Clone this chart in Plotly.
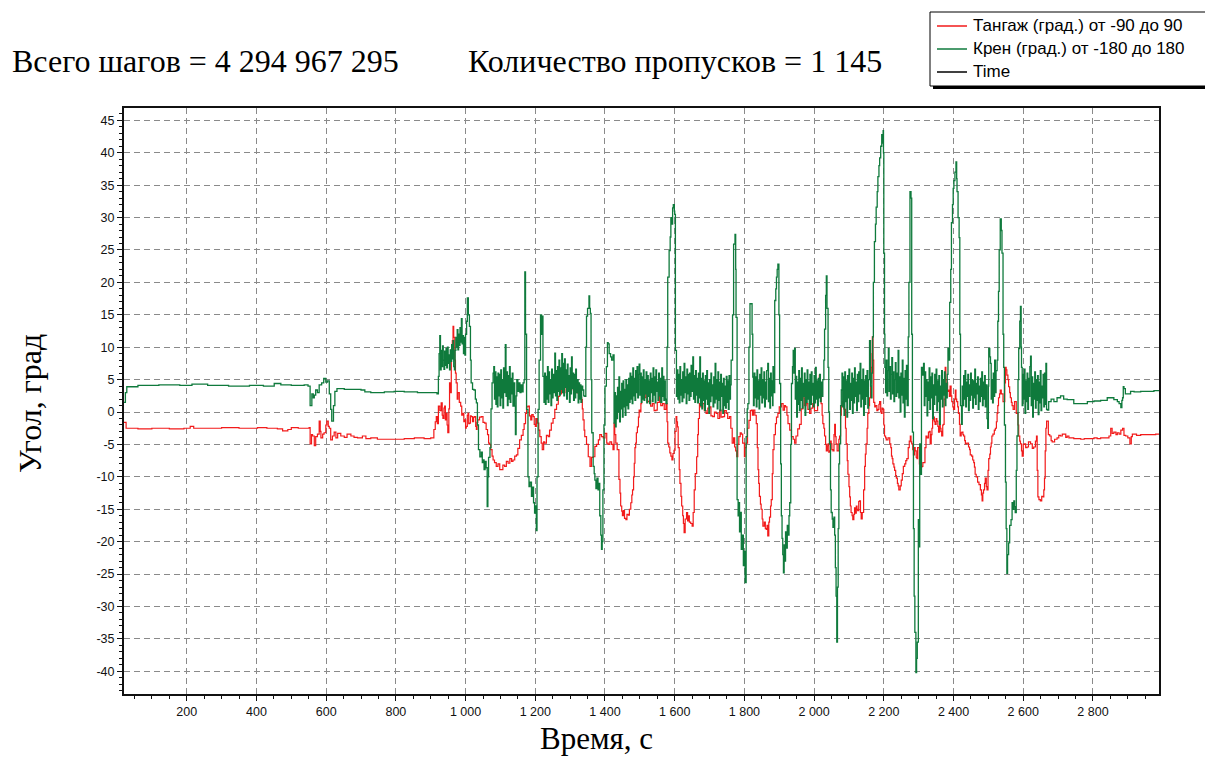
import plotly.graph_objects as go

# ---------------------------------------------------------------------------
# Data: (time, angle) samples of the two recorded channels
# ---------------------------------------------------------------------------
pitch_points = [
    (20, -1.6), (26, -2.5), (60, -2.6), (100, -2.5), (150, -2.6), (192, -2.5), (210, -2.2),
    (220, -2.5), (300, -2.4), (350, -2.5), (403, -2.4), (430, -2.5), (460, -2.6), (475, -2.9),
    (490, -2.7), (500, -2.4), (520, -2.5), (551, -2.4), (554, -4.9), (558, -3.5), (561, -3.7),
    (566, -5.2), (570, -3.8), (575, -3.4), (580, -1.4), (583, -3.0), (585, -4.0), (590, -3.4),
    (594, -3.2), (599, -2.0), (602, -1.4), (606, -2.2), (609, -2.5), (613, -4.3), (618, -3.7),
    (623, -3.1), (628, -4.0), (633, -3.3), (642, -3.7), (652, -3.9), (660, -3.4), (671, -3.7),
    (680, -3.9), (690, -4.0), (704, -3.7), (714, -4.1), (728, -4.0), (747, -4.2), (767, -4.2),
    (795, -4.2), (824, -4.1), (853, -4.0), (881, -4.1), (900, -4.0), (906, -4.0),
    (909, -2.7), (913, -1.5), (916, -0.7), (919, -1.8), (922, 0.9), (926, 0.2), (930, 1.4),
    (933, -0.5), (935, -1.0), (938, 0.6), (940, 0.9), (942, -1.2), (944, -0.2), (947, -2.0),
    (949, -3.2), (952, 0.5), (954, 4.5), (957, 3.0), (959, 9.6), (962, 11.0), (964, 13.2),
    (966, 11.5), (969, 8.0), (971, 6.0), (973, 4.5), (976, 2.0), (978, 3.0), (982, 1.5),
    (986, 0.9), (989, -0.5), (992, -0.2), (995, -1.5), (997, -1.2), (1000, -2.5), (1002, -2.2),
    (1005, -0.5), (1007, -0.2), (1009, -1.8), (1011, -1.7), (1014, -0.6), (1016, -0.7),
    (1020, -1.5), (1023, -0.8), (1026, -0.7), (1029, -2.2), (1031, -2.7), (1033, -1.6),
    (1035, -1.2), (1040, -0.8), (1045, -0.7), (1050, -1.6), (1055, -1.7), (1059, -2.7),
    (1063, -3.5), (1066, -4.8), (1069, -5.0), (1072, -5.8), (1076, -6.8), (1079, -7.4),
    (1083, -7.8), (1088, -8.4), (1093, -8.0), (1098, -8.9), (1103, -8.9), (1107, -8.2),
    (1112, -8.4), (1117, -7.6), (1122, -7.9), (1127, -7.2), (1132, -7.6), (1136, -7.4),
    (1141, -6.8), (1146, -6.6), (1150, -5.6), (1155, -4.3), (1160, -3.6), (1165, -2.7),
    (1168, -1.8), (1172, -0.2), (1175, 0.8), (1179, 0.9), (1183, -0.6), (1187, -1.2),
    (1190, -0.4), (1194, -0.7), (1197, -1.9), (1200, -2.2), (1203, -1.0), (1206, -1.7),
    (1210, -2.8), (1213, -3.8), (1217, -4.8), (1220, -5.8), (1224, -4.6), (1227, -4.8),
    (1232, -3.6), (1237, -3.8), (1241, -2.8), (1246, -1.7), (1251, -1.0), (1256, 0.4),
    (1261, 1.2), (1266, 2.4), (1270, 2.8), (1275, 3.5), (1280, 3.0), (1285, 4.5), (1290, 3.6),
    (1294, 3.5), (1299, 4.0), (1304, 4.5), (1309, 3.4), (1314, 3.5), (1318, 3.0), (1323, 2.9),
    (1328, 2.2), (1333, 1.9), (1335, 0.5), (1337, -1.2), (1340, -2.8), (1342, -3.8),
    (1347, -5.0), (1352, -6.9), (1357, -8.4), (1361, -7.0), (1366, -6.9), (1371, -5.3),
    (1376, -5.0), (1381, -4.3), (1385, -3.5), (1390, -3.8), (1395, -4.0), (1400, -3.3),
    (1405, -4.8), (1409, -5.0), (1414, -4.6), (1419, -5.0), (1423, -5.8), (1426, -1.7),
    (1428, -3.5), (1431, -4.8), (1435, -5.8),
    (1440, -10.4), (1443, -12.5), (1445, -14.5), (1448, -15.3), (1450, -16.0), (1453, -15.2),
    (1456, -16.4), (1460, -16.6), (1463, -15.8), (1467, -15.9), (1470, -15.0), (1474, -14.0),
    (1477, -12.8), (1479, -12.0), (1482, -10.0), (1484, -7.9), (1486, -5.5), (1488, -4.8),
    (1490, -3.2), (1493, -2.3), (1496, -0.8), (1498, 0.3), (1500, 0.0), (1503, 1.3),
    (1505, 2.5), (1508, 3.4), (1512, 2.2), (1517, 2.9), (1521, 1.6), (1527, 1.8), (1531, 0.9),
    (1536, 1.3), (1541, 0.2), (1546, 0.3), (1550, 1.5), (1556, 2.4), (1560, 1.0), (1565, 1.3),
    (1570, 0.4), (1575, 1.3), (1578, -1.5), (1580, -4.8), (1583, -5.4), (1586, -6.3),
    (1589, -6.8), (1592, -7.4), (1595, -6.4), (1598, -5.9), (1601, -3.0), (1604, -0.7),
    (1606, -1.5), (1608, -2.3), (1610, -5.5), (1613, -8.9), (1615, -11.0), (1618, -13.0),
    (1620, -14.5), (1623, -16.0), (1625, -17.2), (1627, -18.6), (1630, -16.5), (1634, -15.5),
    (1637, -16.8), (1640, -16.0), (1642, -17.0), (1646, -17.2), (1650, -17.6), (1653, -15.5),
    (1656, -12.0), (1659, -9.5), (1663, -6.9), (1666, -3.5), (1668, -1.0), (1671, 1.3),
    (1675, 0.8), (1680, 1.3), (1685, 0.2), (1690, -0.2), (1695, 0.6), (1700, 0.8),
    (1704, -0.6), (1709, -0.7), (1714, 0.0), (1719, -0.2), (1724, -1.0), (1729, 0.3),
    (1733, -0.8), (1738, -0.7), (1743, 0.2), (1748, -0.2), (1752, -1.0), (1757, -0.7),
    (1761, -2.5), (1765, -4.8), (1769, -4.0), (1772, -5.4), (1775, -6.0), (1778, -6.9),
    (1781, -5.0), (1784, -3.8), (1788, -3.2), (1791, -3.4), (1795, -4.8), (1800, -6.9),
    (1802, -5.5), (1805, -4.8), (1809, -2.5), (1813, -1.3), (1817, 0.2), (1820, 0.3),
    (1823, -0.5), (1826, 0.3), (1830, -0.5), (1834, -1.8), (1837, -5.5), (1839, -8.9),
    (1841, -11.0), (1843, -13.0), (1846, -14.2), (1848, -15.0), (1851, -16.5), (1853, -17.6),
    (1857, -17.0), (1860, -18.0), (1863, -18.1), (1865, -17.5), (1867, -19.1), (1870, -17.0),
    (1872, -16.2), (1875, -14.5), (1877, -13.5), (1880, -9.5), (1882, -5.8), (1885, -3.5),
    (1889, -1.8), (1892, -0.8), (1896, -0.2), (1900, 0.8), (1906, 1.3), (1911, 0.3),
    (1915, 1.0), (1918, 0.8), (1922, -0.5), (1925, -1.8), (1930, -2.8), (1935, -3.8),
    (1940, -4.2), (1944, -4.8), (1948, -3.7), (1953, -2.6), (1958, -1.9), (1963, 0.5),
    (1968, 2.2), (1973, 1.0), (1977, 1.3), (1982, 0.4), (1987, -0.2), (1991, 0.6), (1996, 1.3),
    (2001, 0.2), (2006, 0.2), (2010, 2.5), (2015, 5.7), (2018, 3.0), (2020, 1.3), (2023, -0.5),
    (2025, -1.8), (2028, -2.5), (2030, -3.7), (2033, -5.0), (2035, -6.0), (2038, -5.2),
    (2040, -4.9), (2042, -6.2), (2044, -6.0), (2047, -4.5), (2049, -4.9), (2051, -5.8),
    (2054, -6.0), (2057, -3.5), (2059, -1.9), (2061, -3.8), (2063, -4.9), (2066, -6.0),
    (2068, -6.0), (2071, -4.2), (2073, -3.7), (2076, -0.5), (2078, 1.0), (2081, 1.6),
    (2083, 1.6), (2085, 0.5), (2087, 0.4), (2090, -2.5), (2092, -4.9), (2095, -7.5),
    (2097, -9.6), (2100, -11.5), (2102, -13.1), (2104, -14.5), (2106, -15.5), (2109, -16.0),
    (2111, -16.6), (2114, -15.8), (2116, -14.8), (2119, -15.6), (2121, -14.5), (2123, -15.0),
    (2125, -15.2), (2128, -13.8), (2130, -13.7), (2133, -15.5), (2135, -16.5), (2138, -15.5),
    (2140, -15.5), (2142, -12.0), (2145, -8.4), (2147, -6.5), (2149, -4.9), (2152, -2.5),
    (2154, -0.2), (2157, 1.0), (2159, 2.2), (2162, 4.5), (2164, 6.9), (2166, 9.0), (2167, 11.6),
    (2169, 8.0), (2171, 1.5), (2174, 0.8), (2176, 1.0), (2180, 0.2), (2183, 0.4), (2186, 1.2),
    (2188, 1.6), (2191, 0.0), (2193, -0.2), (2195, 0.6), (2197, 0.4), (2200, -2.0),
    (2202, -3.7), (2205, -4.0), (2207, -4.3), (2212, -4.0), (2217, -4.9), (2220, -5.5),
    (2222, -6.8), (2224, -7.2), (2226, -8.0), (2229, -8.5), (2231, -9.0), (2234, -9.8),
    (2236, -10.2), (2239, -11.0), (2241, -11.4), (2243, -12.0), (2245, -12.0), (2247, -11.4),
    (2250, -10.5), (2253, -9.5), (2256, -8.4), (2260, -8.0), (2263, -7.5), (2266, -7.2),
    (2270, -5.5), (2273, -4.5), (2276, -3.7), (2278, -4.6), (2280, -4.9), (2283, -5.8),
    (2285, -6.6), (2288, -5.5), (2290, -6.0), (2293, -7.0), (2295, -7.2), (2297, -5.5),
    (2299, -5.5), (2302, -8.0), (2304, -9.6), (2307, -8.5), (2309, -8.4), (2312, -7.8),
    (2314, -7.8), (2318, -5.5), (2321, -3.7), (2324, -4.0), (2328, -3.1), (2331, -3.0),
    (2333, -4.9), (2336, -3.5), (2338, -2.5), (2340, -1.2), (2342, -0.8), (2345, -1.5),
    (2347, -1.9), (2350, -1.0), (2352, -1.4), (2355, -2.2), (2357, -3.1), (2360, -2.0),
    (2362, -2.5), (2364, -3.0), (2366, -3.7), (2369, -2.0), (2371, -1.9), (2373, 2.0),
    (2376, 6.9), (2378, 5.0), (2381, 4.5), (2383, 3.2), (2386, 3.4), (2388, 2.4), (2390, 4.0),
    (2393, 2.5), (2395, 1.6), (2398, 0.8), (2400, 0.4), (2403, 2.0), (2405, 3.4), (2407, 2.0),
    (2409, 1.6), (2412, 0.8), (2414, -0.2), (2417, -1.9), (2419, -3.7), (2422, -3.2),
    (2424, -3.1), (2427, -3.5), (2429, -3.7), (2432, -4.4), (2434, -4.9), (2438, -4.8),
    (2443, -5.4), (2446, -5.8), (2448, -6.6), (2452, -6.8), (2455, -7.4), (2458, -7.8),
    (2460, -8.5), (2462, -9.6), (2465, -10.0), (2469, -10.8), (2473, -11.2), (2477, -12.0),
    (2480, -12.8), (2482, -13.7), (2484, -12.5), (2486, -12.0), (2489, -11.0), (2491, -10.2),
    (2494, -11.5), (2496, -12.0), (2499, -9.0), (2501, -7.2), (2504, -6.5), (2506, -5.4),
    (2508, -4.8), (2510, -3.7), (2513, -3.4), (2517, -2.8), (2520, -2.5), (2523, -1.5),
    (2525, -0.2), (2527, 1.0), (2529, 2.2), (2532, 2.8), (2534, 3.4), (2537, 2.8), (2539, 2.8),
    (2542, 1.6), (2544, 1.6), (2547, 4.5), (2549, 6.9), (2551, 6.5), (2553, 5.7), (2556, 5.0),
    (2558, 3.9), (2561, 3.0), (2563, 2.2), (2566, 1.5), (2568, 1.0), (2571, 0.4), (2573, 0.4),
    (2575, 1.6), (2577, 1.6), (2580, -0.2), (2582, -0.2), (2585, -2.0), (2587, -3.7),
    (2590, -4.5), (2592, -4.9), (2595, -6.0), (2597, -6.8), (2600, -5.0), (2603, -4.9),
    (2607, -5.5), (2611, -5.4), (2615, -4.6), (2621, -4.9), (2626, -5.6), (2630, -5.4),
    (2635, -4.5), (2638, -3.7), (2640, -9.0), (2642, -13.1), (2645, -13.5), (2649, -13.7),
    (2653, -13.0), (2657, -13.1), (2659, -12.0), (2661, -10.2), (2663, -6.0), (2665, -2.5),
    (2667, -1.4), (2669, -1.4), (2672, -3.5), (2676, -3.7), (2680, -4.4), (2683, -4.6),
    (2690, -4.2), (2697, -4.0), (2702, -3.6), (2707, -3.7), (2712, -3.4), (2717, -3.4),
    (2722, -3.9), (2726, -3.7), (2731, -4.0), (2736, -4.0), (2745, -4.1), (2755, -4.1),
    (2765, -4.2), (2775, -4.1), (2784, -4.1), (2793, -4.1), (2803, -4.0), (2812, -4.1),
    (2822, -4.0), (2832, -4.0), (2846, -3.7), (2851, -2.5), (2855, -3.3), (2860, -3.1),
    (2866, -3.5), (2870, -3.2), (2875, -3.4), (2880, -2.8), (2885, -2.5), (2889, -3.6),
    (2894, -3.7), (2900, -4.0), (2906, -4.9), (2910, -3.8), (2913, -3.4), (2925, -3.6),
    (2937, -3.5), (2950, -3.5), (2966, -3.5), (2980, -3.4), (2990, -3.4),
]

roll_points = [
    (20, 1.5), (24, 3.0), (28, 3.9), (60, 4.1), (120, 4.2), (180, 4.1), (215, 4.3), (260, 4.1),
    (320, 4.0), (380, 4.1), (420, 4.0), (451, 4.4), (470, 4.2), (500, 4.1), (537, 4.2),
    (548, 4.0), (554, 1.0), (559, 2.8), (563, 2.2), (566, 2.6), (570, 3.4), (575, 3.0),
    (580, 4.2), (587, 4.5), (593, 5.2), (599, 4.6), (604, 4.8), (609, 2.8), (613, 0.4),
    (616, -1.4), (621, 1.0), (625, 3.2), (631, 3.6), (652, 3.5), (671, 3.5), (700, 3.4),
    (711, 3.1), (728, 3.0), (767, 3.1), (795, 3.2), (824, 3.1), (862, 3.0), (900, 3.0),
    (918, 2.8),
    (922, 5.5), (924, 9.0), (926, 11.8), (928, 6.5), (930, 9.5), (932, 7.0), (934, 10.2),
    (936, 8.0), (938, 6.6), (940, 9.4), (942, 7.2), (944, 9.8), (946, 6.8), (948, 10.0),
    (950, 7.5), (952, 8.8), (954, 6.5), (956, 9.6), (958, 7.8), (960, 10.4), (962, 8.2),
    (964, 11.0), (966, 7.0), (968, 6.5), (970, 9.5), (972, 11.5), (974, 10.0), (976, 12.7),
    (978, 9.6), (980, 12.0), (982, 10.3), (984, 13.0), (986, 10.8), (988, 14.4), (990, 10.5),
    (992, 11.8), (994, 9.0), (996, 11.5), (998, 8.8), (1000, 12.0), (1003, 14.0), (1005, 17.6),
    (1008, 15.0), (1011, 13.2), (1014, 8.0), (1016, 4.5), (1020, 3.5), (1024, 3.4),
    (1028, 2.0), (1031, 1.4), (1034, -2.0), (1037, -5.8), (1041, -6.9), (1045, -6.2),
    (1048, -7.8), (1050, -7.4), (1053, -8.9), (1056, -7.6), (1059, -8.6), (1062, -14.6),
    (1064, -10.0), (1066, -7.0), (1070, -5.5), (1073, 0.5), (1076, 4.5), (1079, 6.0),
    (1081, 7.0), (1083, 2.0), (1085, 6.2), (1087, 1.2), (1089, 5.4), (1091, 0.8), (1093, 6.0),
    (1095, 2.5), (1097, 5.8), (1099, 1.0), (1101, 6.5), (1103, 2.2), (1105, 5.0), (1107, 0.6),
    (1109, 6.8), (1111, 3.0), (1114, 10.4), (1116, 2.4), (1118, 6.2), (1120, 1.0),
    (1122, 5.6), (1124, 2.0), (1126, 7.0), (1128, 1.5), (1130, 5.2), (1132, 2.8), (1134, 6.0),
    (1136, 0.9), (1138, 4.5), (1141, 0.9), (1143, -3.5), (1145, 2.5), (1147, 5.0), (1150, 3.2),
    (1153, 4.5), (1156, 3.0), (1159, 4.2), (1162, 3.1), (1165, 4.5), (1168, 5.0), (1170, 21.6),
    (1172, 12.0), (1175, 0.4), (1179, -10.0), (1182, -11.5), (1185, -10.8), (1189, -13.0),
    (1192, -11.6), (1195, -14.0), (1198, -15.6), (1201, -14.5), (1203, -18.3), (1205, -10.0),
    (1208, 0.4), (1211, 8.0), (1215, 15.0), (1218, 12.0), (1220, 14.8), (1222, 5.5),
    (1225, 1.5),
    (1227, 6.0), (1229, 1.2), (1231, 5.5), (1233, 2.0), (1235, 7.0), (1237, 1.5), (1239, 6.2),
    (1241, 2.8), (1243, 5.0), (1245, 1.0), (1247, 6.6), (1249, 2.2), (1251, 5.8), (1253, 3.0),
    (1256, 9.1), (1258, 2.5), (1260, 6.4), (1262, 1.8), (1264, 7.0), (1266, 3.2), (1268, 8.0),
    (1270, 2.6), (1272, 6.8), (1274, 3.5), (1276, 9.0), (1278, 3.0), (1280, 7.5), (1282, 2.5),
    (1284, 8.2), (1286, 3.8), (1288, 6.5), (1290, 2.0), (1292, 7.4), (1294, 3.2), (1296, 5.6),
    (1298, 1.5), (1300, 6.8), (1302, 2.8), (1304, 8.5), (1306, 3.6), (1308, 6.0), (1310, 1.8),
    (1312, 5.8), (1314, 2.2), (1316, 6.6), (1318, 3.0), (1320, 5.0), (1323, 1.4), (1325, 4.5),
    (1327, 2.0), (1329, 4.2), (1331, 1.5), (1333, 4.0), (1336, 3.4), (1339, 2.5), (1342, 2.4),
    (1345, 10.0), (1347, 14.8), (1350, 16.0), (1354, 17.9), (1356, 16.0), (1358, 15.2),
    (1360, 5.0), (1362, -3.2), (1366, -8.4), (1369, -9.5), (1371, -10.5), (1374, -11.8),
    (1377, -10.2), (1380, -12.0), (1383, -11.0), (1385, -16.0), (1388, -19.0), (1390, -21.2),
    (1392, -20.0), (1394, -12.0), (1397, -2.0), (1400, 4.0), (1404, 7.0), (1407, 10.7),
    (1409, 10.5), (1412, 9.0), (1416, 8.5), (1419, 8.0), (1423, 8.8), (1426, -1.7),
    (1428, 3.0), (1430, -2.3), (1432, 2.5), (1434, -1.0), (1436, 3.8), (1438, 0.0),
    (1440, 5.4), (1442, -1.5), (1444, 3.2), (1446, 0.5), (1448, 4.4), (1450, -0.8),
    (1452, 4.8), (1454, 0.8), (1456, 3.5), (1458, -0.5), (1460, 5.0), (1462, 1.0), (1464, 4.2),
    (1466, 0.5), (1468, 5.2), (1470, 1.5), (1472, 6.0), (1474, 2.0), (1476, 5.5), (1478, 1.3),
    (1480, 6.8), (1482, 2.5), (1484, 5.2), (1486, 1.8), (1488, 6.4), (1490, 3.0), (1492, 7.0),
    (1494, 2.2), (1496, 5.8), (1498, 7.4), (1500, 2.6), (1502, 6.0), (1504, 1.5), (1506, 5.4),
    (1508, 2.0), (1510, 6.5), (1512, 1.8), (1514, 5.0), (1516, 2.8), (1518, 6.2), (1520, 1.4),
    (1522, 5.6), (1524, 2.4), (1526, 4.8), (1528, 1.3), (1530, 6.0), (1532, 3.0), (1534, 5.2),
    (1536, 1.6), (1538, 6.8), (1540, 2.6), (1542, 5.4), (1544, 1.4), (1546, 6.5), (1548, 3.2),
    (1550, 4.6), (1552, 1.8), (1554, 6.0), (1556, 2.5), (1558, 5.2), (1560, 1.5), (1563, 6.8),
    (1565, 2.4), (1567, 5.5), (1569, 1.8), (1571, 4.8), (1573, 2.0), (1575, 1.3),
    (1578, 10.0), (1580, 20.8), (1584, 24.9), (1587, 27.0), (1589, 30.0), (1592, 29.0),
    (1594, 31.5), (1596, 32.0), (1599, 31.0), (1600, 30.5), (1602, 9.5), (1605, 2.4),
    (1607, 6.5), (1609, 2.0), (1611, 5.8), (1613, 1.4), (1615, 7.0), (1617, 2.6), (1619, 5.0),
    (1621, 1.6), (1623, 6.2), (1625, 2.2), (1627, 7.5), (1629, 3.0), (1631, 5.4), (1633, 1.3),
    (1635, 6.6), (1637, 2.8), (1639, 5.8), (1641, 1.8), (1643, 6.0), (1645, 2.4), (1647, 7.2),
    (1649, 3.2), (1652, 8.5), (1654, 2.0), (1656, 5.6), (1658, 1.5), (1660, 6.4), (1662, 2.6),
    (1664, 5.2), (1666, 1.4), (1668, 6.0), (1670, 2.2), (1672, 8.5), (1674, 1.0), (1676, 5.2),
    (1678, 0.5), (1680, 6.0), (1682, 1.8), (1684, 4.8), (1686, 0.2), (1688, 5.6), (1690, 2.0),
    (1692, 6.4), (1694, 1.2), (1696, 4.5), (1698, -0.2), (1700, 5.0), (1702, 1.6), (1704, 6.0),
    (1706, 2.5), (1708, 4.2), (1710, 0.8), (1712, 5.4), (1714, 1.4), (1716, 7.5), (1718, 2.0),
    (1720, 5.0), (1722, 0.5), (1724, 6.2), (1726, 1.8), (1728, 4.6), (1730, 0.2), (1732, 5.8),
    (1734, 2.4), (1736, 4.4), (1738, -0.2), (1740, 5.2), (1742, 1.0), (1744, 4.0), (1746, 0.6),
    (1748, 5.5), (1750, 1.5), (1752, 4.8), (1754, 0.4), (1756, 5.6), (1758, 2.0), (1760, 4.2),
    (1762, 8.0), (1766, 15.0), (1769, 25.9), (1773, 27.4), (1775, 22.0), (1776, 14.6),
    (1779, -13.5), (1782, -16.0), (1784, -14.0), (1786, -18.5), (1788, -15.5), (1791, -21.2),
    (1794, -19.0), (1797, -23.7), (1800, -21.5), (1802, -26.3), (1805, -3.8), (1808, 0.5),
    (1810, 1.3), (1813, 10.0), (1816, 16.7), (1820, 16.7), (1822, 12.0), (1824, 5.4),
    (1826, 1.0), (1828, 6.0), (1830, 2.2), (1832, 5.4), (1834, 0.8), (1836, 6.5), (1838, 2.0),
    (1840, 4.8), (1842, 0.5), (1844, 5.8), (1846, 2.6), (1848, 6.8), (1850, 1.4), (1852, 5.0),
    (1854, 2.2), (1856, 6.2), (1858, 0.8), (1860, 4.6), (1862, 2.0), (1864, 6.4), (1867, 7.5),
    (1869, 1.6), (1871, 5.2), (1873, 0.6), (1875, 6.0), (1877, 2.5), (1879, 4.8), (1881, 1.0),
    (1882, 7.0), (1884, 3.0), (1887, 17.2), (1890, 19.0), (1892, 20.8), (1894, 22.0),
    (1896, 22.8), (1899, 15.0), (1901, 4.4), (1904, -8.0), (1906, -16.0), (1908, -19.5),
    (1910, -22.0), (1912, -24.8), (1914, -20.5), (1916, -23.0), (1918, -18.5), (1920, -21.0),
    (1923, -17.5), (1925, -19.0), (1928, -16.0), (1930, -14.0), (1933, -5.0), (1935, 4.4),
    (1938, 7.0), (1940, 9.5), (1942, 6.0), (1944, 9.8), (1946, 2.0), (1948, 5.5), (1950, -0.8),
    (1952, 4.6), (1954, 1.2), (1956, 6.4), (1958, 0.2), (1960, 5.2), (1962, 1.8), (1964, 6.8),
    (1966, 0.6), (1968, 4.4), (1970, 2.4), (1972, 6.0), (1974, -0.5), (1976, 5.0), (1978, 1.5),
    (1980, 6.5), (1982, 2.0), (1984, 4.6), (1986, 0.4), (1988, 5.8), (1990, 1.2), (1992, 6.2),
    (1994, 2.6), (1996, 4.4), (1998, 0.8), (2000, 5.6), (2002, 1.4), (2004, 6.9), (2006, 2.0),
    (2008, 4.8), (2010, 1.0), (2012, 5.2), (2014, 2.2), (2016, 5.8), (2018, 1.6), (2020, 4.6),
    (2022, 2.4), (2025, 5.0), (2028, 8.0), (2030, 12.8), (2033, 18.0), (2035, 21.0),
    (2037, 16.0), (2040, 6.9), (2042, 0.0), (2044, -4.9), (2047, -12.0), (2049, -15.5),
    (2052, -16.5), (2054, -17.8), (2057, -16.2), (2059, -19.0), (2061, -24.0), (2063, -28.4),
    (2065, -35.5), (2067, -27.0), (2069, -18.0), (2071, -8.0), (2073, -4.9), (2076, 1.0),
    (2078, 3.4), (2080, 6.0), (2082, 0.8), (2084, 5.4), (2086, -0.5), (2088, 6.2), (2090, 1.6),
    (2092, 4.8), (2094, -0.8), (2096, 5.6), (2098, 2.2), (2100, 6.6), (2102, 0.4), (2104, 4.4),
    (2106, 1.8), (2108, 6.0), (2110, -0.2), (2112, 5.2), (2114, 1.4), (2116, 6.8), (2118, 2.4),
    (2120, 4.6), (2122, 0.2), (2124, 5.8), (2126, 1.6), (2128, 6.2), (2130, 2.8), (2132, 7.5),
    (2134, 0.8), (2136, 5.0), (2138, 2.0), (2140, 6.6), (2142, -0.5), (2144, 4.8), (2146, 1.2),
    (2148, 5.6), (2150, 2.4), (2152, 6.4), (2154, 0.6), (2156, 5.0), (2159, 11.0), (2162, 4.0),
    (2164, 2.2), (2166, 6.0), (2168, 11.6), (2170, 20.0), (2173, 26.3), (2176, 29.0),
    (2178, 31.6), (2181, 34.0), (2183, 36.3), (2186, 38.0), (2188, 39.2), (2191, 41.0),
    (2194, 42.8), (2196, 41.5), (2198, 43.4), (2199, 40.0), (2200, 24.5), (2202, 12.0),
    (2203, 6.9), (2205, 3.0), (2207, 8.0), (2209, 2.5), (2211, 6.4), (2213, 9.8), (2215, 3.2),
    (2217, 7.0), (2219, 2.0), (2221, 5.8), (2223, 8.4), (2225, 2.8), (2227, 6.2), (2229, 1.6),
    (2231, 5.0), (2233, 7.6), (2235, 2.4), (2237, 6.0), (2239, 3.0), (2241, 9.5), (2243, 2.2),
    (2245, 5.4), (2247, 0.0), (2249, 6.0), (2251, 2.6), (2253, 8.0), (2255, 1.4), (2257, 5.2),
    (2259, -0.8), (2261, 6.4), (2263, 2.0), (2265, 7.2), (2267, 1.0), (2270, 11.6),
    (2272, 20.0), (2275, 34.0), (2278, 33.0), (2280, 12.0), (2282, -3.1), (2285, -18.0),
    (2287, -28.4), (2289, -34.0), (2292, -40.2), (2294, -38.0), (2296, -35.5), (2299, -16.6),
    (2301, -20.8), (2303, -4.9), (2305, -9.6), (2308, 6.9), (2311, 5.7), (2314, 7.5),
    (2316, 1.0), (2318, 6.2), (2320, 2.4), (2322, 5.0), (2324, -0.6), (2326, 4.6), (2328, 1.8),
    (2330, 6.8), (2332, 0.4), (2334, 5.4), (2336, 2.2), (2338, 6.0), (2340, -1.0), (2342, 4.2),
    (2344, 1.2), (2346, 5.8), (2348, 2.6), (2350, 6.6), (2352, 0.2), (2354, 4.8), (2356, 1.6),
    (2358, 5.6), (2360, -1.9), (2362, 4.0), (2364, 2.0), (2366, 6.4), (2368, 0.8), (2370, 5.0),
    (2372, 2.6), (2374, 6.2), (2376, 1.0), (2378, 4.4), (2380, 2.2), (2382, 5.8), (2384, 9.8),
    (2387, 8.0), (2389, 16.9), (2392, 22.0), (2394, 29.2), (2397, 32.0), (2399, 34.5),
    (2401, 35.7), (2404, 37.0), (2407, 38.6), (2409, 36.0), (2410, 34.0), (2413, 30.0),
    (2416, 26.9), (2418, 12.0), (2420, 1.0), (2423, -1.9), (2425, 4.0), (2427, 1.0),
    (2429, 5.6), (2431, 2.0), (2433, 6.4), (2435, 0.8), (2437, 4.6), (2439, 2.4), (2441, 5.8),
    (2443, 0.2), (2445, 4.2), (2447, 1.8), (2449, 6.0), (2451, 2.6), (2453, 5.0), (2455, 0.6),
    (2457, 4.8), (2459, 2.2), (2461, 6.6), (2463, 1.2), (2465, 4.4), (2467, 2.8), (2469, 5.4),
    (2471, 0.4), (2473, 4.0), (2475, 1.6), (2477, 5.2), (2479, 2.4), (2481, 6.2), (2483, 1.0),
    (2485, 4.6), (2487, 2.0), (2489, 5.6), (2491, 0.8), (2493, 4.2), (2496, -1.0), (2498, -2.5),
    (2500, 4.0), (2501, 9.8), (2504, 8.5), (2506, 7.5), (2508, 2.0), (2510, 5.0), (2512, 1.4),
    (2514, 6.0), (2516, 2.4), (2518, 8.0), (2520, 3.0), (2522, 6.4), (2525, 8.0), (2527, 14.0),
    (2529, 18.6), (2531, 25.0), (2534, 29.8), (2537, 28.0), (2539, 24.5), (2542, 12.0),
    (2544, 6.9), (2546, -2.0), (2549, -10.8), (2551, -18.0), (2553, -24.9), (2555, -22.0),
    (2558, -20.2), (2561, -17.5), (2565, -16.6), (2568, -14.0), (2571, -15.0), (2573, -13.7),
    (2575, -14.6), (2577, -15.5), (2580, -9.0), (2582, -3.7), (2585, 5.0), (2587, 9.8),
    (2590, 14.0), (2592, 16.3), (2594, 10.0), (2595, 6.9), (2597, 1.0), (2599, 5.8),
    (2601, 2.0), (2603, 6.6), (2605, -0.2), (2607, 4.8), (2609, 1.6), (2611, 6.0), (2613, 0.4),
    (2615, 5.2), (2617, 2.4), (2619, 7.0), (2621, 8.6), (2623, 1.0), (2625, 5.4), (2627, -0.8),
    (2629, 4.4), (2631, 2.0), (2633, 6.2), (2635, 0.6), (2637, 5.0), (2639, 1.8), (2641, 5.6),
    (2643, -0.4), (2645, 4.6), (2647, 1.4), (2649, 6.4), (2651, 0.2), (2653, 4.0), (2655, 2.2),
    (2657, 5.8), (2659, 0.8), (2661, 6.0), (2663, 1.2), (2665, 7.5), (2667, 0.4), (2669, 0.3),
    (2673, 1.6), (2680, 2.0), (2688, 1.6), (2697, 2.2), (2707, 2.5), (2716, 2.0), (2726, 1.9),
    (2745, 1.3), (2765, 1.3), (2784, 1.6), (2803, 1.7), (2822, 1.8), (2841, 2.2), (2860, 1.9),
    (2870, 1.6), (2875, 1.3), (2880, 0.7), (2883, 1.8), (2885, 2.2), (2887, 3.9), (2889, 3.6),
    (2893, 2.8), (2899, 2.8), (2908, 3.2), (2918, 3.1), (2937, 3.2), (2956, 3.2), (2975, 3.3),
    (2990, 3.35),
]

# Axis ticks and labels
x_tick_values = list(range(200, 2801, 200))
x_tick_labels = [f"{v:,}".replace(",", " ") for v in x_tick_values]
y_tick_values = list(range(-40, 46, 5))
y_tick_labels = [str(v) for v in y_tick_values]

header_left = "Всего шагов = 4 294 967 295"
header_right = "Количество пропусков = 1 145"
legend_names = ["Тангаж (град.) от -90 до 90", "Крен (град.) от -180 до 180", "Time"]
x_title = "Время, с"
y_title = "Угол, град"

# ---------------------------------------------------------------------------
# Layout geometry (pixels)
# ---------------------------------------------------------------------------
W, H = 1205, 760
PL, PR, PT, PB = 124, 1159, 108, 694
X_RANGE = [20, 2989.5]
Y_RANGE = [-43.5, 46.9]

RED = "#f21a1a"
GREEN = "#0f7a3c"
SERIF = "Liberation Serif, Times New Roman, serif"
SANS = "Liberation Sans, Arial, sans-serif"


def px(xp):
    return (xp - PL) / (PR - PL)


def py(yp):
    return (PB - yp) / (PB - PT)


t_pitch = [p[0] for p in pitch_points]
v_pitch = [p[1] for p in pitch_points]
t_roll = [p[0] for p in roll_points]
v_roll = [p[1] for p in roll_points]

fig = go.Figure()
fig.add_trace(go.Scatter(x=t_pitch, y=v_pitch, mode="lines", name=legend_names[0],
                         line=dict(color=RED, width=1.2, shape="hv"), showlegend=False))
fig.add_trace(go.Scatter(x=t_roll, y=v_roll, mode="lines", name=legend_names[1],
                         line=dict(color=GREEN, width=1.3, shape="hv"), showlegend=False))

axis_common = dict(
    showline=True, linecolor="#111", linewidth=2, mirror=True,
    showgrid=True, gridcolor="#8a8a8a", gridwidth=1, griddash="6px,4px",
    zeroline=False, ticks="outside", ticklen=5, tickcolor="#111", tickwidth=1,
    tickfont=dict(family=SANS, size=12.5, color="#111"),
)

fig.update_xaxes(range=X_RANGE, tickmode="array", tickvals=x_tick_values,
                 ticktext=x_tick_labels,
                 minor=dict(dtick=50, tick0=0, ticklen=3, tickcolor="#111", ticks="outside",
                            showgrid=False),
                 **axis_common)
fig.update_yaxes(range=Y_RANGE, tickmode="array", tickvals=y_tick_values,
                 ticktext=y_tick_labels,
                 minor=dict(dtick=1, tick0=0, ticklen=3, tickcolor="#111", ticks="outside",
                            showgrid=False),
                 **axis_common)

annotations = [
    dict(x=px(10), y=py(61), text=header_left, xanchor="left", yanchor="middle",
         font=dict(family=SERIF, size=32, color="#000")),
    dict(x=px(466), y=py(61), text=header_right, xanchor="left", yanchor="middle",
         font=dict(family=SERIF, size=32, color="#000")),
    dict(x=px(596), y=py(738), text=x_title, xanchor="center", yanchor="middle",
         font=dict(family=SERIF, size=31, color="#000")),
    dict(x=px(30), y=py(404), text=y_title, xanchor="center", yanchor="middle", textangle=-90,
         font=dict(family=SERIF, size=32, color="#000")),
]

# Legend box with drop shadow
shapes = [
    dict(type="rect", xref="paper", yref="paper", x0=px(933), x1=px(1212), y0=py(89), y1=py(15),
         fillcolor="#000", line=dict(width=0), layer="above"),
    dict(type="rect", xref="paper", yref="paper", x0=px(930), x1=px(1209), y0=py(86), y1=py(12),
         fillcolor="#fff", line=dict(color="#000", width=1), layer="above"),
]
legend_colors = [RED, GREEN, "#000"]
legend_rows = [26, 49, 72]
for name, color, yr in zip(legend_names, legend_colors, legend_rows):
    shapes.append(dict(type="line", xref="paper", yref="paper", x0=px(937), x1=px(967),
                       y0=py(yr), y1=py(yr), line=dict(color=color, width=1.5), layer="above"))
    annotations.append(dict(x=px(971), y=py(yr), text=name, xanchor="left", yanchor="middle",
                            font=dict(family=SANS, size=17, color="#000")))

for a in annotations:
    a.update(xref="paper", yref="paper", showarrow=False)

fig.update_layout(
    width=W, height=H,
    margin=dict(l=PL, r=W - PR, t=PT, b=H - PB),
    paper_bgcolor="#fff", plot_bgcolor="#fff",
    showlegend=False,
    annotations=annotations,
    shapes=shapes,
)

fig.write_html("out.html")
